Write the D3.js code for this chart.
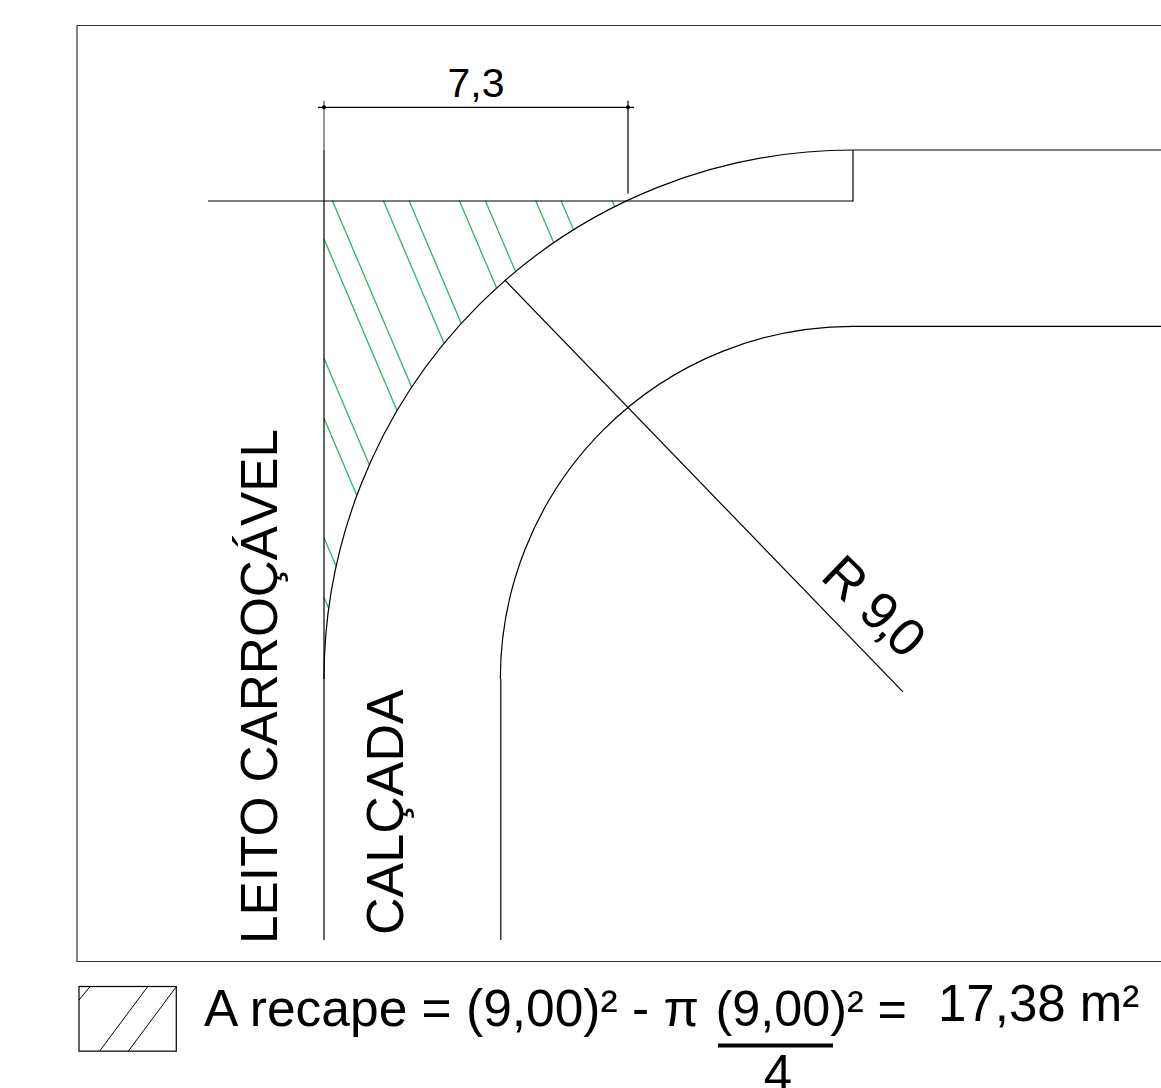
<!DOCTYPE html>
<html>
<head>
<meta charset="utf-8">
<script src="https://cdn.jsdelivr.net/npm/d3@7"></script>
<style>
  html, body { margin: 0; padding: 0; background: #fff; overflow: hidden; }
  svg { display: block; }
  text { font-family: "Liberation Sans", Arial, sans-serif; fill: #000; }
</style>
</head>
<body>
<div id="drawing"></div>
<script>
// everything in metres, measured from the corner of the curb line (x right, y down)
const outerRadius = 9;
const innerRadius = 6;
const curbY = 0.859;
const curbStartX = -1.973;
const roadEndX = 14.24;
const bottomY = 13.44;

// hatch lines start either on the curb line or on the left line
const hatchTopX = [0.141, 1.009, 1.446, 2.302, 2.744, 3.601, 4.032, 4.9];
const hatchLeftY = [1.514, 3.544, 4.564, 6.596, 7.61];
const hatchSlope = 2.35;

// dimension line
const dimY = -0.735;
const dimX = [0, 5.172];
const dimLabel = '7,3';

// radius line
const radiusFrom = [3.073, 2.21];
const radiusTo = [9.85, 9.22];
const radiusLabel = 'R 9,0';

const roadLabel = 'LEITO CARROÇÁVEL';
const walkLabel = 'CALÇADA';
const formulaLeft = 'A recape = (9,00)² - π';
const formulaRight = '(9,00)² =';
const resultLabel = '17,38 m²';
const denominatorLabel = '4';

const legendHatch = [
  [[0.19, 0], [0, 0.23]],
  [[1.17, 0], [0.35, 1.1]],
  [[1.65, 0.01], [0.84, 1.1]],
];

const width = 1161, height = 1088;
const x = d3.scaleLinear().domain([0, 9]).range([324, 853]);
const y = d3.scaleLinear().domain([0, 9]).range([150, 679]);
const lenPx = (m) => x(m) - x(0);
const lineW = 1.2;

const svg = d3
  .select('#drawing')
  .append('svg')
  .attr('width', width)
  .attr('height', height)
  .attr('viewBox', [0, 0, width, height]);

function addLine(x1, y1, x2, y2, color = '#000', sw = lineW) {
  return svg
    .append('line')
    .attr('x1', x1)
    .attr('y1', y1)
    .attr('x2', x2)
    .attr('y2', y2)
    .attr('stroke', color)
    .attr('stroke-width', sw);
}

// where a hatch line from (x0,y0) hits the outer arc
function hitArc(x0, y0) {
  const dx = x0 - outerRadius, dy = y0 - outerRadius;
  const a = 1 + hatchSlope * hatchSlope;
  const b = 2 * (dx + hatchSlope * dy);
  const c = dx * dx + dy * dy - outerRadius * outerRadius;
  const t = (-b - Math.sqrt(b * b - 4 * a * c)) / (2 * a);
  return [x0 + t, y0 + t * hatchSlope];
}

//-----hatch-----
const hatchStarts = hatchTopX
  .map((d) => [d, curbY])
  .concat(hatchLeftY.map((d) => [0, d]));

svg
  .append('g')
  .selectAll('line')
  .data(hatchStarts)
  .join('line')
  .attr('stroke', '#2fb568')
  .attr('stroke-width', 1.3)
  .attr('x1', (d) => x(d[0]))
  .attr('y1', (d) => y(d[1]))
  .attr('x2', (d) => x(hitArc(d[0], d[1])[0]))
  .attr('y2', (d) => y(hitArc(d[0], d[1])[1]));

//-----frame-----
svg
  .append('path')
  .attr('d', 'M1161,25.5H77V961.5H1161')
  .attr('fill', 'none')
  .attr('stroke', '#333')
  .attr('stroke-width', 1.2);

//-----road edges-----
function quarter(r) {
  const p = d3.path();
  p.moveTo(x(outerRadius - r), y(outerRadius));
  p.arc(x(outerRadius), y(outerRadius), lenPx(r), Math.PI, 1.5 * Math.PI);
  p.lineTo(x(roadEndX), y(outerRadius - r));
  return p.toString();
}
[outerRadius, innerRadius].forEach((r) => {
  svg
    .append('path')
    .attr('d', quarter(r))
    .attr('fill', 'none')
    .attr('stroke', '#000')
    .attr('stroke-width', lineW);
});

addLine(x(0), y(0), x(0), y(bottomY));
addLine(x(3) + 0.5, y(outerRadius), x(3) + 0.5, y(bottomY));
addLine(x(curbStartX), y(curbY) + 0.5, x(outerRadius), y(curbY) + 0.5);
addLine(x(outerRadius), y(0), x(outerRadius), y(curbY) + 1);

//-----dimension-----
addLine(x(dimX[0]) - 6, y(dimY) + 0.5, x(dimX[1]) + 6, y(dimY) + 0.5);
addLine(x(dimX[0]), y(dimY) - 6, x(dimX[0]), y(0), '#555');
addLine(x(dimX[1]), y(dimY) - 6, x(dimX[1]), y(curbY) - 7);
svg
  .append('g')
  .selectAll('circle')
  .data(dimX)
  .join('circle')
  .attr('cx', (d) => x(d))
  .attr('cy', y(dimY) + 0.5)
  .attr('r', 2)
  .attr('fill', '#000');
svg
  .append('text')
  .attr('x', (x(dimX[0]) + x(dimX[1])) / 2)
  .attr('y', 97)
  .attr('text-anchor', 'middle')
  .attr('font-size', 41)
  .text(dimLabel);

//-----radius-----
addLine(x(radiusFrom[0]), y(radiusFrom[1]), x(radiusTo[0]), y(radiusTo[1]));
svg
  .append('text')
  .attr('transform', 'translate(819,578) rotate(44)')
  .attr('font-size', 53)
  .attr('letter-spacing', -3.5)
  .attr('word-spacing', 6)
  .text(radiusLabel);

//-----vertical labels-----
svg
  .append('text')
  .attr('transform', 'translate(277,944) rotate(-90)')
  .attr('font-size', 51.3)
  .text(roadLabel);
svg
  .append('text')
  .attr('transform', 'translate(403,935) rotate(-90)')
  .attr('font-size', 52)
  .text(walkLabel);

//-----legend-----
const legend = svg.append('g').attr('transform', 'translate(79,986.5)');
legend
  .append('rect')
  .attr('width', lenPx(1.655))
  .attr('height', lenPx(1.1))
  .attr('fill', 'none')
  .attr('stroke', '#000')
  .attr('stroke-width', lineW);
legend
  .selectAll('line')
  .data(legendHatch)
  .join('line')
  .attr('stroke', '#000')
  .attr('stroke-width', 1)
  .attr('x1', (d) => lenPx(d[0][0]))
  .attr('y1', (d) => lenPx(d[0][1]))
  .attr('x2', (d) => lenPx(d[1][0]))
  .attr('y2', (d) => lenPx(d[1][1]));

//-----formula-----
svg
  .append('text')
  .attr('x', 204)
  .attr('y', 1026)
  .attr('font-size', 51.5)
  .text(formulaLeft);
svg
  .append('text')
  .attr('x', 715.5)
  .attr('y', 1026)
  .attr('font-size', 50.3)
  .text(formulaRight);
svg
  .append('text')
  .attr('x', 938)
  .attr('y', 1021)
  .attr('font-size', 51)
  .text(resultLabel);
addLine(718, 1045.5, 833, 1045.5, '#000', 4);
svg
  .append('text')
  .attr('x', 778)
  .attr('y', 1091)
  .attr('text-anchor', 'middle')
  .attr('font-size', 51)
  .text(denominatorLabel);
</script>
</body>
</html>
